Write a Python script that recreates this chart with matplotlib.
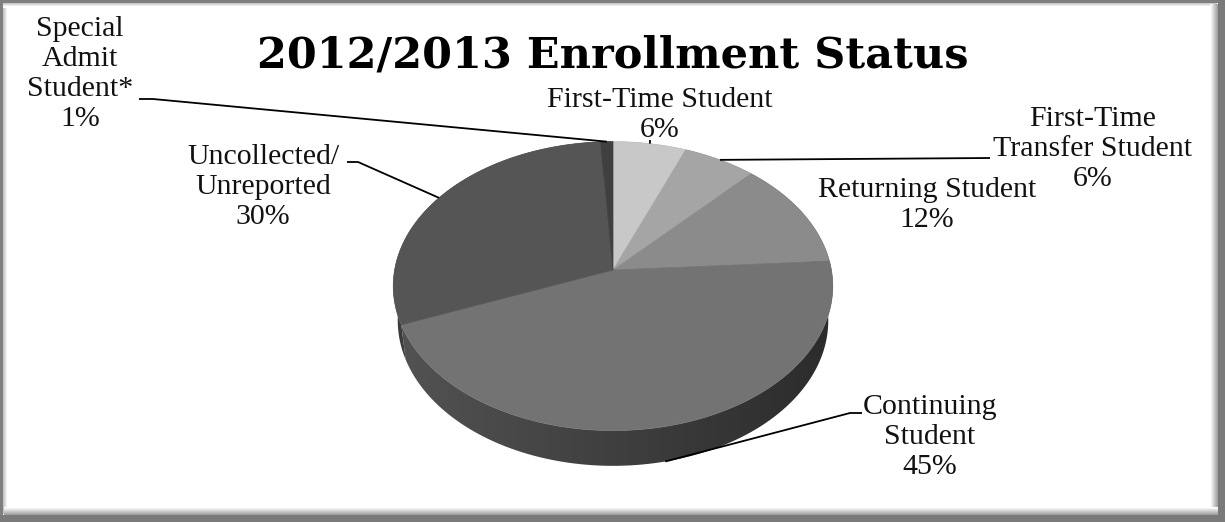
import numpy as np
import matplotlib.pyplot as plt
import matplotlib.patches as patches
from matplotlib.colors import to_rgb

# enrollment shares, clockwise from 12 o'clock
categories = ['First-Time Student', 'First-Time\nTransfer Student', 'Returning Student',
              'Continuing\nStudent', 'Uncollected/\nUnreported', 'Special\nAdmit\nStudent*']
shares = [6, 6, 12, 45, 30, 1]
top_colors = ['#c8c8c8', '#a5a5a5', '#8b8b8b', '#737373', '#555555', '#404040']

# label block centres (px) and leader polylines from label side to pie
label_pos = [(660, 115), (1093, 149), (927, 205), (930, 437), (263, 187), (80, 74)]
leader_elbow = [None, None, None, (850, 413), (358, 162), (153, 99)]
leader_end = [(650, 140), (990, 158), None, (862, 413), (347, 162), (139, 99)]

W, H = 1225, 522
fig = plt.figure(figsize=(W / 100, H / 100), dpi=100)
ax = fig.add_axes([0, 0, 1, 1])
ax.axis('off')

# simple perspective camera looking down on a flat disc
cx, cy = 613, 270
foc, dist = 1485, 6.8
elev = np.radians(40.8)
thick = 0.214
se, ce = np.sin(elev), np.cos(elev)
rx = foc / dist


def project(theta, y3=0.0):
    X = np.sin(theta)
    Z = -np.cos(theta)
    w = dist - Z * ce - y3 * se
    return cx + foc * X / w, cy + foc * (Z * se - y3 * ce) / w


bounds = np.concatenate([[0], np.cumsum(shares)]) / sum(shares) * 2 * np.pi

# side walls: one outline per slice filled with a left-lit horizontal gradient
gx = np.linspace(cx - rx - 10, cx + rx + 10, 300)
s = np.clip((gx - cx) / rx, -1, 1)
for i, c in enumerate(top_colors):
    th = np.linspace(bounds[i], bounds[i + 1], max(8, int(shares[i] * 8)))
    xt, yt = project(th)
    xb, yb = project(th[::-1], -thick)
    outline = patches.Polygon(list(zip(xt, yt)) + list(zip(xb, yb)), closed=True,
                              facecolor='none', edgecolor='none')
    ax.add_patch(outline)
    shade = 0.55 - 0.17 * s
    img = np.clip(np.array(to_rgb(c))[None, None, :] * shade[None, :, None], 0, 1)
    im = ax.imshow(img, extent=(gx[0], gx[-1], cy + 250, cy - 250), aspect='auto',
                   interpolation='bilinear', zorder=1)
    im.set_clip_path(outline)

# top faces
for i, c in enumerate(top_colors):
    th = np.linspace(bounds[i], bounds[i + 1], max(6, int(shares[i] * 6)))
    xs, ys = project(th)
    pts = [(cx, cy)] + list(zip(xs, ys))
    ax.add_patch(patches.Polygon(pts, closed=True, facecolor=c, edgecolor=c,
                                 linewidth=0.5, zorder=2))

# leader lines: anchor on slice mid-angle (bottom rim for the front slice)
for i in range(len(shares)):
    if leader_end[i] is None:
        continue
    mid = (bounds[i] + bounds[i + 1]) / 2
    if np.cos(mid) < -0.5:
        px, py = project(mid, -thick)
    else:
        px, py = project(mid)
    pts = [(px, py)]
    if leader_elbow[i] is not None:
        pts.append(leader_elbow[i])
    pts.append(leader_end[i])
    xs, ys = zip(*pts)
    ax.plot(xs, ys, color='black', linewidth=1.3, zorder=3, solid_capstyle='butt')

for name, pct, (lx, ly) in zip(categories, shares, label_pos):
    ax.text(lx, ly, f'{name}\n{pct}%', ha='center', va='center', multialignment='center',
            fontsize=21.5, family='Liberation Serif', linespacing=1.2, color='#111111', zorder=4)

ax.text(613, 68, '2012/2013 Enrollment Status', ha='center', va='baseline',
        fontsize=31, fontweight='bold', family='DejaVu Serif', color='black', zorder=4)


# bevelled frame around the chart area
def band(x0, y0, x1, y1, c0, c1, horizontal, n=8):
    c0, c1 = np.array(to_rgb(c0)), np.array(to_rgb(c1))
    for k in range(n):
        t = k / (n - 1)
        col = c0 + (c1 - c0) * t
        if horizontal:
            xa = x0 + (x1 - x0) * k / n
            ax.add_patch(patches.Rectangle((xa, y0), (x1 - x0) / n + 0.5, y1 - y0,
                                           facecolor=col, linewidth=0, zorder=5))
        else:
            ya = y0 + (y1 - y0) * k / n
            ax.add_patch(patches.Rectangle((x0, ya), x1 - x0, (y1 - y0) / n + 0.5,
                                           facecolor=col, linewidth=0, zorder=5))


band(2, 2, 8, H - 8, '#b4b4b4', '#ffffff', True, 6)
band(2, 2, W - 8, 7, '#b4b4b4', '#ffffff', False, 5)
band(W - 15, 4, W - 7, H - 7, '#ffffff', '#a0a0a0', True, 8)
band(4, H - 15, W - 7, H - 7, '#ffffff', '#a0a0a0', False, 8)
ax.add_patch(patches.Rectangle((0, 0), 2.5, H, facecolor='#7f7f7f', linewidth=0, zorder=6))
ax.add_patch(patches.Rectangle((0, 0), W, 2.5, facecolor='#7f7f7f', linewidth=0, zorder=6))
ax.add_patch(patches.Rectangle((W - 7, 0), 7, H, facecolor='#7a7a7a', linewidth=0, zorder=6))
ax.add_patch(patches.Rectangle((0, H - 7), W, 7, facecolor='#7a7a7a', linewidth=0, zorder=6))

ax.set_xlim(0, W)
ax.set_ylim(H, 0)
fig.savefig('out.png', dpi=100, facecolor='white')
